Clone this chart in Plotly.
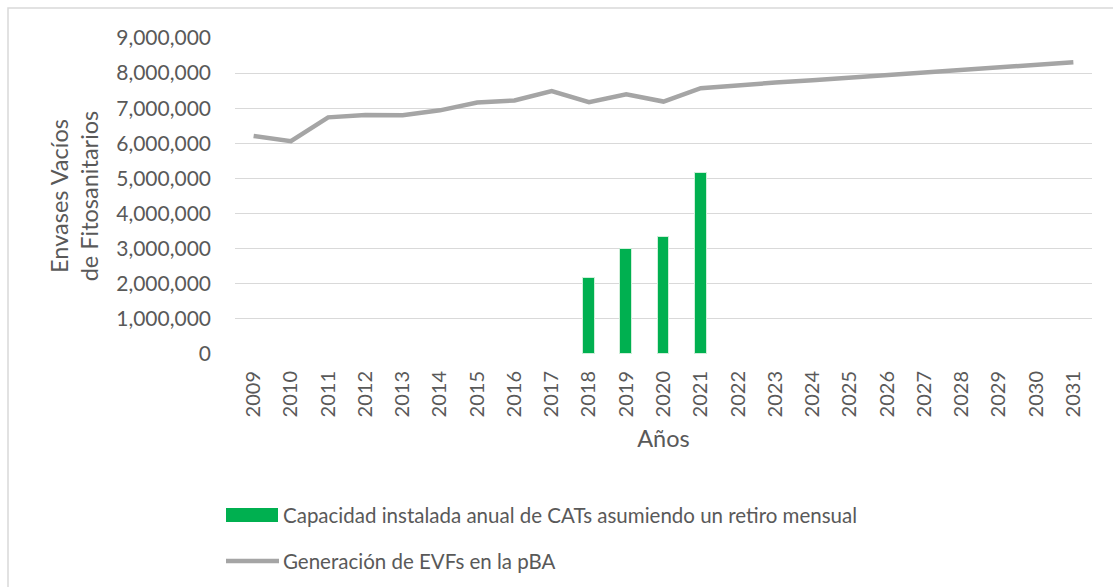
import plotly.graph_objects as go

years = [str(y) for y in range(2009, 2032)]

# Generación de EVFs en la pBA (envases por año)
generacion = [6210000, 6060000, 6740000, 6810000, 6800000, 6940000, 7160000, 7220000,
              7490000, 7170000, 7400000, 7190000, 7570000, 7660000, 7730000, 7800000,
              7870000, 7950000, 8020000, 8090000, 8160000, 8240000, 8310000]

# Capacidad instalada anual de CATs (solo años con dato)
cap_years = ["2018", "2019", "2020", "2021"]
capacidad = [2160000, 2980000, 3340000, 5150000]

y_ticks = list(range(0, 9000001, 1000000))
y_tick_text = ["0"] + [f"{v:,}" for v in y_ticks[1:]]

bar_name = "Capacidad instalada anual de CATs asumiendo un retiro mensual"
line_name = "Generación de EVFs en la pBA"

GREEN = "#00B050"
GREY = "#A5A5A5"
TXT = "#595959"
FONT = "Lato, Calibri, sans-serif"

fig = go.Figure()
fig.add_trace(go.Bar(
    x=cap_years, y=capacidad, name=bar_name,
    marker=dict(color=GREEN, line=dict(color="#CFEFD9", width=1)),
    width=0.31, showlegend=False,
))
fig.add_trace(go.Scatter(
    x=years, y=generacion, name=line_name, mode="lines",
    line=dict(color=GREY, width=4.5), showlegend=False,
))

fig.update_layout(
    width=1113, height=587,
    margin=dict(l=235, r=21, t=38, b=233),
    paper_bgcolor="white", plot_bgcolor="white",
    font=dict(family=FONT, color=TXT, size=20),
    xaxis=dict(
        type="category", categoryorder="array", categoryarray=years,
        range=[-0.5, 22.5], tickangle=-90, showgrid=False, ticks="",
        tickfont=dict(size=20, color=TXT), ticklabelstandoff=12,
        title=dict(text="Años", font=dict(size=23.5, color=TXT), standoff=14),
        showline=False, zeroline=False,
    ),
    yaxis=dict(
        range=[0, 9000000], tickvals=y_ticks, ticktext=y_tick_text,
        showgrid=True, gridcolor="#D9D9D9", gridwidth=1.3,
        zeroline=False, ticks="", tickfont=dict(size=21, color=TXT),
        ticklabelstandoff=23,
        title=dict(text="Envases Vacíos<br>de Fitosanitarios",
                   font=dict(size=23.5, color=TXT), standoff=10),
    ),
    bargap=0,
)

# Outer chart border
fig.add_shape(type="rect", xref="paper", yref="paper",
              x0=-227 / 857, x1=1.05, y0=-0.9, y1=1 + 30 / 316,
              line=dict(color="#D9D9D9", width=1.5), fillcolor="rgba(0,0,0,0)", layer="below")

# Legend drawn below the axis
px_w, px_h = 857, 316
def px(xp):
    return (xp - 235) / px_w
def py(yp):
    return (354 - yp) / px_h

fig.add_shape(type="rect", xref="paper", yref="paper",
              x0=px(226), x1=px(278), y0=py(522), y1=py(508),
              fillcolor=GREEN, line=dict(width=0))
fig.add_annotation(xref="paper", yref="paper", x=px(281), y=py(515),
                   text=bar_name, showarrow=False, xanchor="left", yanchor="middle",
                   font=dict(size=20.5, color=TXT, family=FONT))
fig.add_shape(type="line", xref="paper", yref="paper",
              x0=px(226), x1=px(279), y0=py(561), y1=py(561),
              line=dict(color=GREY, width=4.5))
fig.add_annotation(xref="paper", yref="paper", x=px(281), y=py(561),
                   text=line_name, showarrow=False, xanchor="left", yanchor="middle",
                   font=dict(size=20.5, color=TXT, family=FONT))

fig.write_html("out.html")
